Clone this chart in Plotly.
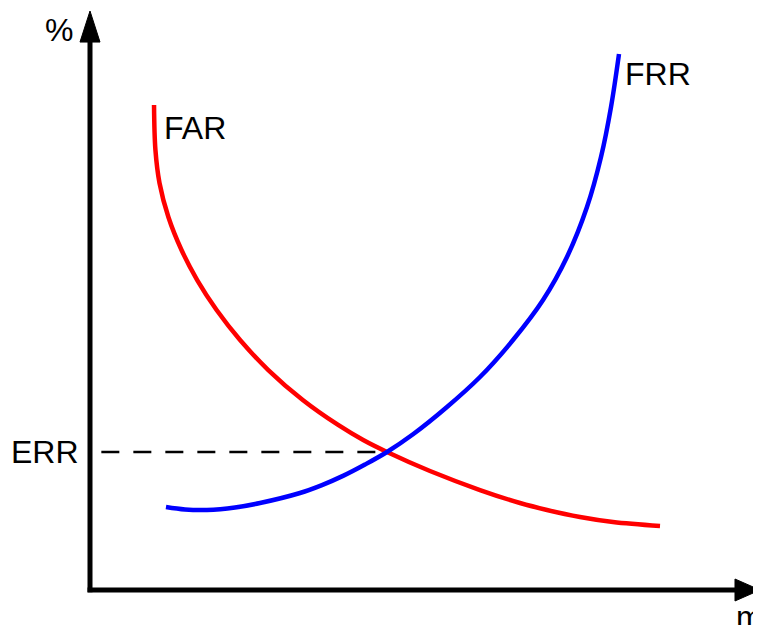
import plotly.graph_objects as go

# FAR curve (false acceptance rate) vs threshold m
far_x = [9.60, 9.81, 10.42, 11.75, 13.72, 16.07, 18.98, 22.50, 26.73, 31.90, 37.20, 40.96,
         44.53, 50.97, 58.47, 64.47, 68.52, 73.46, 78.41, 85.46]
far_y = [83.91, 76.12, 70.42, 64.53, 58.82, 53.63, 48.44, 43.25, 38.06, 32.87, 28.55, 25.95,
         23.88, 20.59, 17.30, 15.05, 13.84, 12.63, 11.76, 11.07]

# FRR curve (false rejection rate)
frr_x = [11.39, 14.24, 17.54, 21.74, 25.49, 31.48, 34.78, 37.93, 41.23, 44.53, 48.43, 53.52,
         58.47, 63.42, 67.92, 71.51, 74.51, 76.61, 78.11, 79.31]
frr_y = [14.36, 13.93, 13.84, 14.27, 15.05, 16.78, 18.15, 19.74, 21.71, 23.88, 26.94, 31.66,
         36.85, 43.25, 50.17, 57.61, 66.26, 74.91, 83.56, 92.73]

err_x = 44.53
err_y = 23.88

FONT = "Liberation Sans, Arial, sans-serif"

fig = go.Figure()
fig.add_trace(go.Scatter(x=far_x, y=far_y, mode="lines",
                         line=dict(color="#FF0000", width=4.5, shape="spline", smoothing=1),
                         showlegend=False, hoverinfo="skip", cliponaxis=False))
fig.add_trace(go.Scatter(x=frr_x, y=frr_y, mode="lines",
                         line=dict(color="#0000FF", width=4.5, shape="spline", smoothing=1),
                         showlegend=False, hoverinfo="skip", cliponaxis=False))
# ERR dashed line
fig.add_trace(go.Scatter(x=[1.7, err_x], y=[err_y, err_y], mode="lines",
                         line=dict(color="black", width=2.6, dash="18px,14px"),
                         showlegend=False, hoverinfo="skip", cliponaxis=False))

shapes = [
    # y-axis line
    dict(type="line", xref="paper", yref="paper", x0=0, x1=0, y0=-0.004, y1=0.955,
         line=dict(color="black", width=5)),
    # x-axis line
    dict(type="line", xref="paper", yref="paper", x0=-0.0037, x1=0.97, y0=0, y1=0,
         line=dict(color="black", width=5)),
    # y arrowhead
    dict(type="path", xref="paper", yref="paper", path="M -0.015 0.948 L 0.015 0.948 L 0 1.0017 Z",
         fillcolor="black", line=dict(color="black", width=1)),
    # x arrowhead
    dict(type="path", xref="paper", yref="paper", path="M 0.967 0.019 L 0.967 -0.019 L 1.0045 0 Z",
         fillcolor="black", line=dict(color="black", width=1)),
]

fs = 32
annotations = [
    dict(text="FAR", xref="x", yref="y", x=10.75, y=79.9, xanchor="left", yanchor="middle",
         showarrow=False, font=dict(family=FONT, size=fs, color="black")),
    dict(text="FRR", xref="x", yref="y", x=79.9, y=89.3, xanchor="left", yanchor="middle",
         showarrow=False, font=dict(family=FONT, size=fs, color="black")),
    dict(text="ERR", xref="paper", yref="y", x=-0.0135, y=err_y, xanchor="right", yanchor="middle",
         showarrow=False, font=dict(family=FONT, size=fs, color="black")),
    dict(text="%", xref="paper", yref="paper", x=-0.0465, y=0.969, xanchor="center", yanchor="middle",
         showarrow=False, font=dict(family=FONT, size=fs, color="black")),
    dict(text="m", xref="paper", yref="paper", x=0.9895, y=-0.047, xanchor="center", yanchor="middle",
         showarrow=False, font=dict(family=FONT, size=fs, color="black")),
]

fig.update_layout(
    width=761, height=625,
    margin=dict(l=82, r=12, t=4, b=43),
    paper_bgcolor="white", plot_bgcolor="white",
    xaxis=dict(range=[0, 100], visible=False, fixedrange=True),
    yaxis=dict(range=[0, 100], visible=False, fixedrange=True),
    shapes=shapes, annotations=annotations,
)

fig.write_html("out.html")
